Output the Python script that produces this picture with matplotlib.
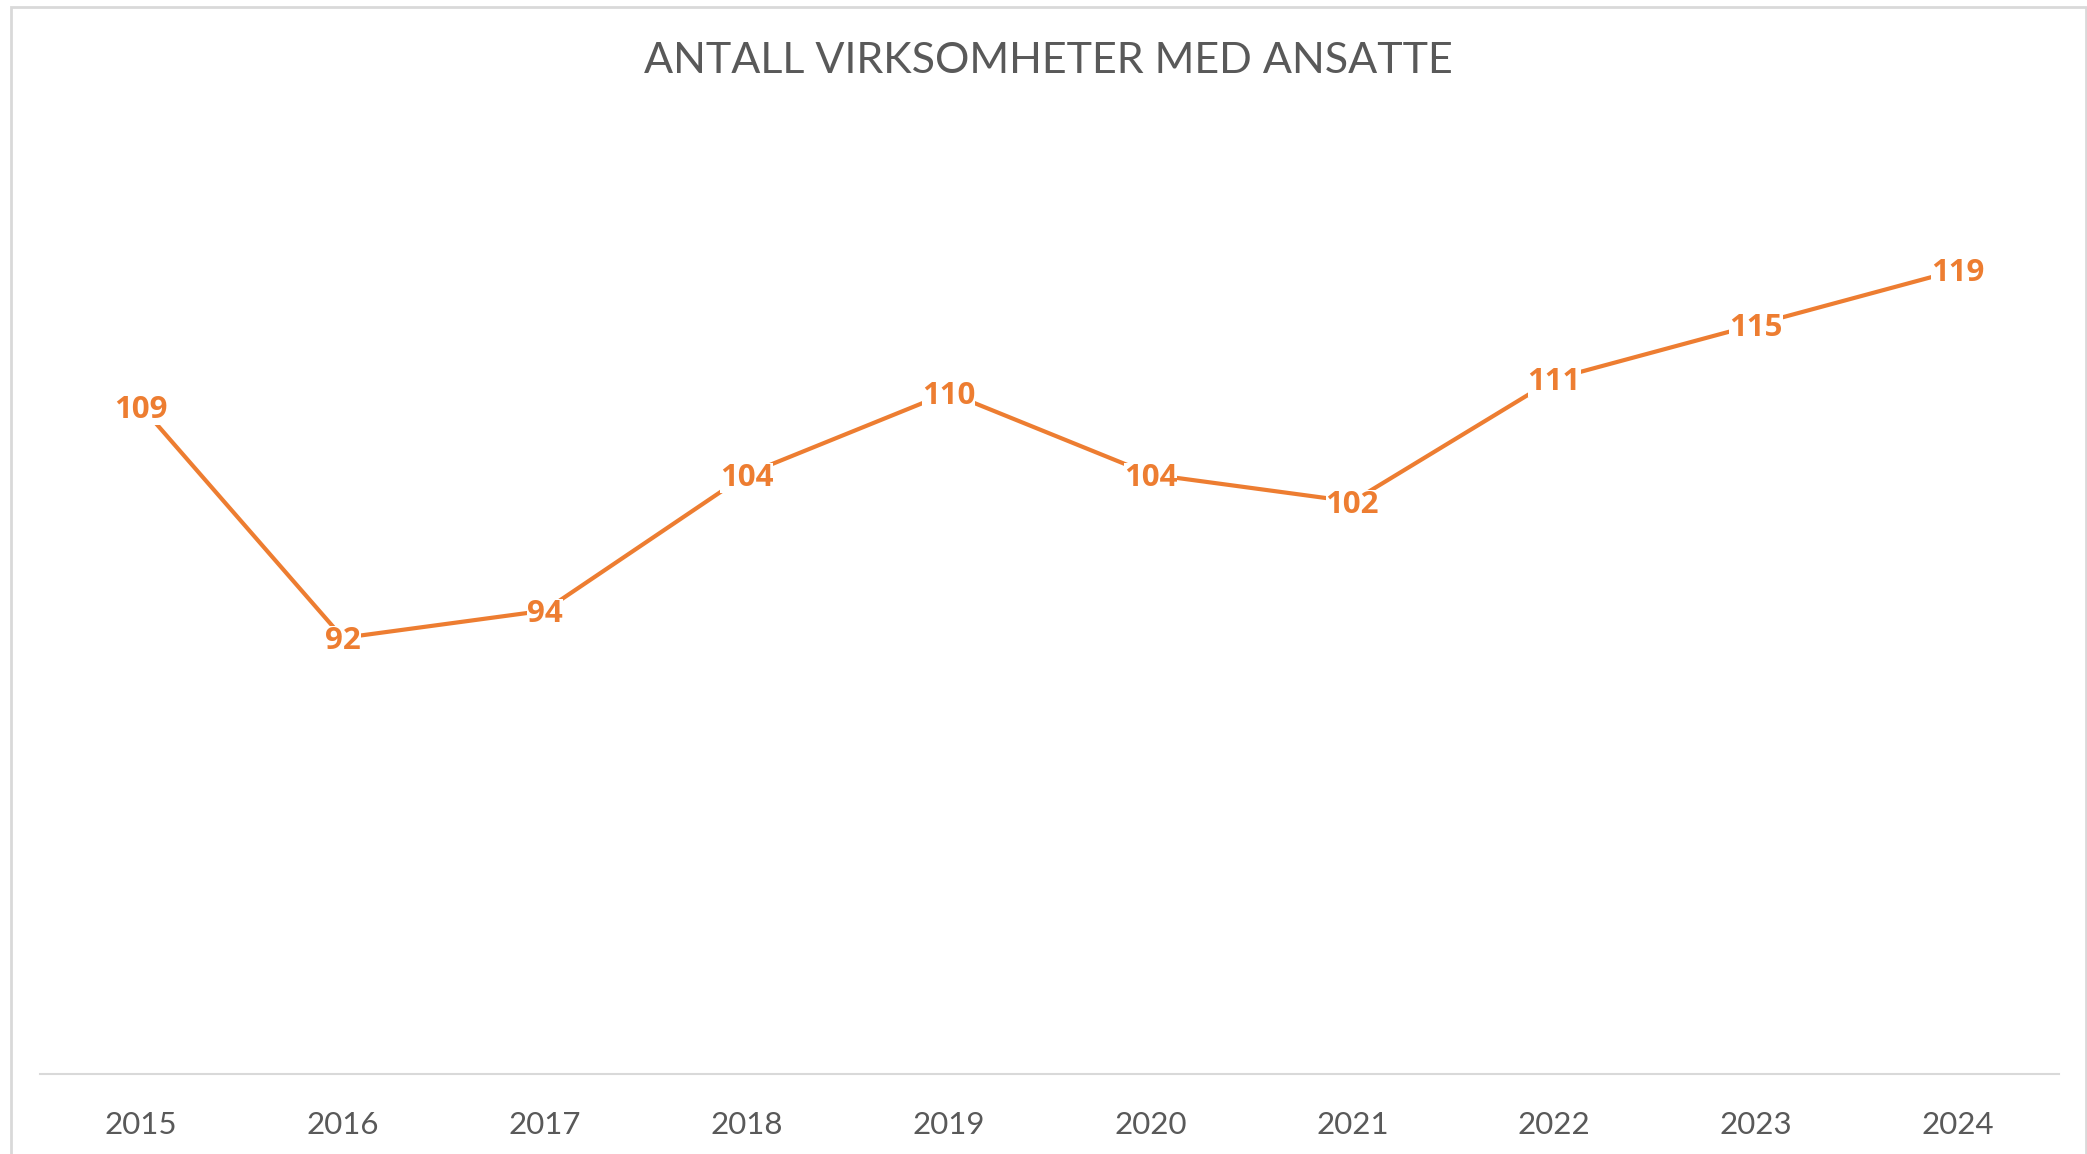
import matplotlib.pyplot as plt
from matplotlib.patches import Rectangle

# data
years = ['2015', '2016', '2017', '2018', '2019', '2020', '2021', '2022', '2023', '2024']
antall = [109, 92, 94, 104, 110, 104, 102, 111, 115, 119]

orange = '#ED7D31'
grey_text = '#595959'
grey_line = '#D9D9D9'

plt.rcParams['font.family'] = ['Lato', 'DejaVu Sans']

W, H = 2087, 1154
fig = plt.figure(figsize=(W / 100, H / 100), dpi=100)

# chart border
fig.patches.append(Rectangle((11 / W, -0.01), (2086 - 11) / W, 1 - 7 / H + 0.01,
                             transform=fig.transFigure, fill=False,
                             edgecolor=grey_line, linewidth=2))

ax = fig.add_axes([40 / W, 80 / H, (2059 - 40) / W, (1074 - 120) / H])

x = list(range(len(years)))
ax.plot(x, antall, color=orange, linewidth=3, solid_capstyle='butt', zorder=2)

# data labels sitting on the points
for xi, v in zip(x, antall):
    ax.text(xi, v, str(v), ha='center', va='center_baseline', color=orange,
            fontsize=22.5, fontweight='bold', family=['Open Sans', 'DejaVu Sans'], zorder=3,
            bbox=dict(boxstyle='square,pad=0.0', facecolor='white', edgecolor='none'))

ax.set_xlim(-0.5, len(years) - 0.5)
ax.set_ylim(60, 130)
ax.set_xticks(x)
ax.set_xticklabels(years)
ax.set_yticks([])
ax.tick_params(axis='x', length=0, pad=27, labelsize=22.5, labelcolor=grey_text)

for side in ['top', 'left', 'right']:
    ax.spines[side].set_visible(False)
ax.spines['bottom'].set_color(grey_line)
ax.spines['bottom'].set_linewidth(1.5)

fig.text(1048 / W, 1 - 61 / H, 'ANTALL VIRKSOMHETER MED ANSATTE', ha='center', va='center',
         fontsize=31, color=grey_text)

fig.savefig('out.png', dpi=100)
